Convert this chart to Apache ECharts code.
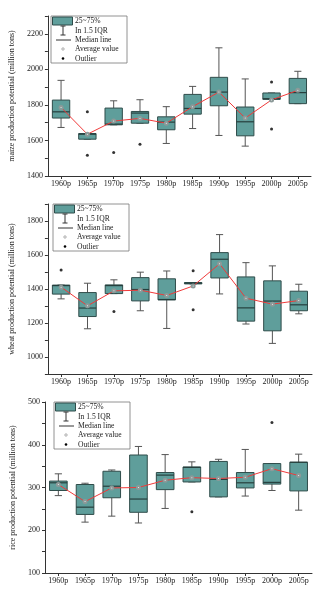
<!DOCTYPE html>
<html><head><meta charset="utf-8">
<script src="https://cdn.jsdelivr.net/npm/echarts@6/dist/echarts.min.js"></script>
<style>html,body{margin:0;padding:0;background:#fff}#c{width:327px;height:593px}</style>
</head><body><div id="c"></div>
<script>
const categories = ['1960p','1965p','1970p','1975p','1980p','1985p','1990p','1995p','2000p','2005p'];

// [min, Q1, median, Q3, max]
const maizeBoxes = [
  [1673,1726,1761,1827,1938],[1607,1607,1635,1639,1639],[1688,1688,1692,1782,1823],
  [1697,1697,1754,1763,1829],[1583,1660,1703,1733,1790],[1667,1748,1780,1859,1904],
  [1628,1795,1872,1955,2121],[1568,1626,1705,1788,1946],[1831,1831,1835,1867,1867],
  [1807,1807,1869,1949,1989]];
const maizeMeans = [1786,1635,1709,1724,1697,1790,1872,1726,1828,1882];
const maizeOutliers = [[1,1761],[1,1517],[2,1532],[3,1579],[8,1929],[8,1664]];

const wheatBoxes = [
  [1342,1370,1420,1423,1423],[1166,1238,1288,1379,1434],[1373,1373,1420,1424,1454],
  [1272,1330,1397,1467,1499],[1168,1336,1338,1460,1506],[1430,1430,1434,1438,1438],
  [1371,1465,1575,1614,1720],[1194,1211,1289,1471,1555],[1080,1154,1329,1448,1536],
  [1254,1272,1307,1387,1428]];
const wheatMeans = [1411,1301,1389,1393,1362,1418,1548,1346,1311,1332];
const wheatOutliers = [[0,1512],[2,1268],[5,1508],[5,1278]];

const riceBoxes = [
  [281,293,311,315,332],[219,237,254,307,310],[233,276,303,338,341],
  [217,242,273,376,396],[251,295,329,335,377],[313,313,347,348,360],
  [278,278,319,361,366],[280,299,311,335,389],[293,308,312,356,356],
  [247,292,359,359,378]];
const riceMeans = [307,267,299,300,317,323,321,324,344,328];
const riceOutliers = [[5,243],[8,452]];

const yNames = ['maize production potential (million tons)','wheat production potential (million tons)','rice production potential (million tons)'];
const yMin = [1400, 900, 100];
const yMax = [2300, 1900, 500];
const yStep = [100, 100, 50];
const yLabelStep = [200, 200, 100];

const FONT = "'Liberation Serif','Times New Roman',serif";
const grids = [
  {left:42, top:16, width:269, height:160},
  {left:44, top:204, width:268, height:170},
  {left:45, top:402, width:267, height:171}
];

function renderBox(params, api){
  const x = api.value(0);
  const lo = api.coord([x, api.value(1)]);
  const q1 = api.coord([x, api.value(2)]);
  const md = api.coord([x, api.value(3)]);
  const q3 = api.coord([x, api.value(4)]);
  const hi = api.coord([x, api.value(5)]);
  const band = api.size([1,0])[0];
  const w = band*0.66, cw = band*0.27;
  const cx = lo[0];
  const ws = {stroke:'#555', lineWidth:1};
  return {type:'group', children:[
    {type:'line', shape:{x1:cx,y1:hi[1],x2:cx,y2:q3[1]}, style:ws},
    {type:'line', shape:{x1:cx,y1:q1[1],x2:cx,y2:lo[1]}, style:ws},
    {type:'line', shape:{x1:cx-cw/2,y1:hi[1],x2:cx+cw/2,y2:hi[1]}, style:ws},
    {type:'line', shape:{x1:cx-cw/2,y1:lo[1],x2:cx+cw/2,y2:lo[1]}, style:ws},
    {type:'rect', shape:{x:cx-w/2,y:q3[1],width:w,height:Math.max(q1[1]-q3[1],1)}, style:{fill:'#5f9e9b',stroke:'#2f4c4a',lineWidth:1}},
    {type:'line', shape:{x1:cx-w/2,y1:md[1],x2:cx+w/2,y2:md[1]}, style:{stroke:'#263f3d',lineWidth:1.2}}
  ]};
}

const boxSets = [maizeBoxes, wheatBoxes, riceBoxes];
const meanSets = [maizeMeans, wheatMeans, riceMeans];
const outSets = [maizeOutliers, wheatOutliers, riceOutliers];

const xAxis = [], yAxis = [], series = [], graphic = [];
grids.forEach((g, i) => {
  xAxis.push({type:'category', gridIndex:i, data:categories, boundaryGap:true,
    axisLine:{show:true, lineStyle:{color:'#333', width:1}},
    axisTick:{show:true, alignWithLabel:true, length:3, inside:false, lineStyle:{color:'#333'}},
    axisLabel:{fontFamily:FONT, fontSize:8, color:'#222', margin:4, interval:0},
    splitLine:{show:false}});
  yAxis.push({type:'value', gridIndex:i, min:yMin[i], max:yMax[i], interval:yStep[i],
    name:yNames[i], nameLocation:'middle', nameGap:27,
    nameTextStyle:{fontFamily:FONT, fontSize:8, color:'#222'},
    axisLine:{show:true, lineStyle:{color:'#333', width:1}},
    axisTick:{show:true, length:3, lineStyle:{color:'#333'}},
    axisLabel:{fontFamily:FONT, fontSize:8, color:'#222', margin:5,
      formatter: v => (v % yLabelStep[i] === 0 && v !== yMax[i] || (v===yMax[i] && v%yLabelStep[i]===0 && i===2)) ? String(v) : ''},
    splitLine:{show:false}});
  series.push({type:'custom', xAxisIndex:i, yAxisIndex:i, renderItem:renderBox,
    encode:{x:0, y:[1,2,3,4,5]}, z:2,
    data: boxSets[i].map((b, k) => [k].concat(b))});
  series.push({type:'line', xAxisIndex:i, yAxisIndex:i, data:meanSets[i], z:4,
    symbol:'emptyCircle', symbolSize:3, itemStyle:{color:'#8c9a99', borderWidth:0.8},
    lineStyle:{color:'#f03a3a', width:1}});
  series.push({type:'scatter', xAxisIndex:i, yAxisIndex:i, data:outSets[i], z:5,
    symbol:'circle', symbolSize:3, itemStyle:{color:'#000'}});

  const lx = g.left + 9, ly = g.top;
  const ts = (y, t) => ({type:'text', x:24, y:y, style:{text:t, font:'7.6px ' + FONT, fill:'#222', textVerticalAlign:'middle'}});
  graphic.push({type:'group', x:lx, y:ly, z:100, children:[
    {type:'rect', shape:{x:0,y:0,width:76,height:47}, style:{fill:'#fff', stroke:'#777', lineWidth:0.8}},
    {type:'rect', shape:{x:1.5,y:1,width:20,height:8}, style:{fill:'#5f9e9b', stroke:'#2f4c4a', lineWidth:1}},
    {type:'line', shape:{x1:12,y1:10,x2:12,y2:19}, style:{stroke:'#333', lineWidth:1}},
    {type:'line', shape:{x1:9.5,y1:10,x2:14.5,y2:10}, style:{stroke:'#333', lineWidth:1}},
    {type:'line', shape:{x1:9.5,y1:19,x2:14.5,y2:19}, style:{stroke:'#333', lineWidth:1}},
    {type:'line', shape:{x1:5,y1:24,x2:20,y2:24}, style:{stroke:'#333', lineWidth:1}},
    {type:'circle', shape:{cx:12,cy:33,r:1.2}, style:{fill:'#fff', stroke:'#999', lineWidth:0.8}},
    {type:'circle', shape:{cx:12,cy:42.5,r:1.3}, style:{fill:'#000'}},
    ts(5,'25~75%'), ts(14.5,'In 1.5 IQR'), ts(24,'Median line'), ts(33.3,'Average value'), ts(42.5,'Outlier')
  ]});
});

const chart = echarts.init(document.getElementById('c'), null, {renderer:'canvas'});
chart.setOption({
  animation:false,
  backgroundColor:'#fff',
  grid: grids.map(g => Object.assign({containLabel:false}, g)),
  xAxis, yAxis, series, graphic
});
</script>
</body></html>
